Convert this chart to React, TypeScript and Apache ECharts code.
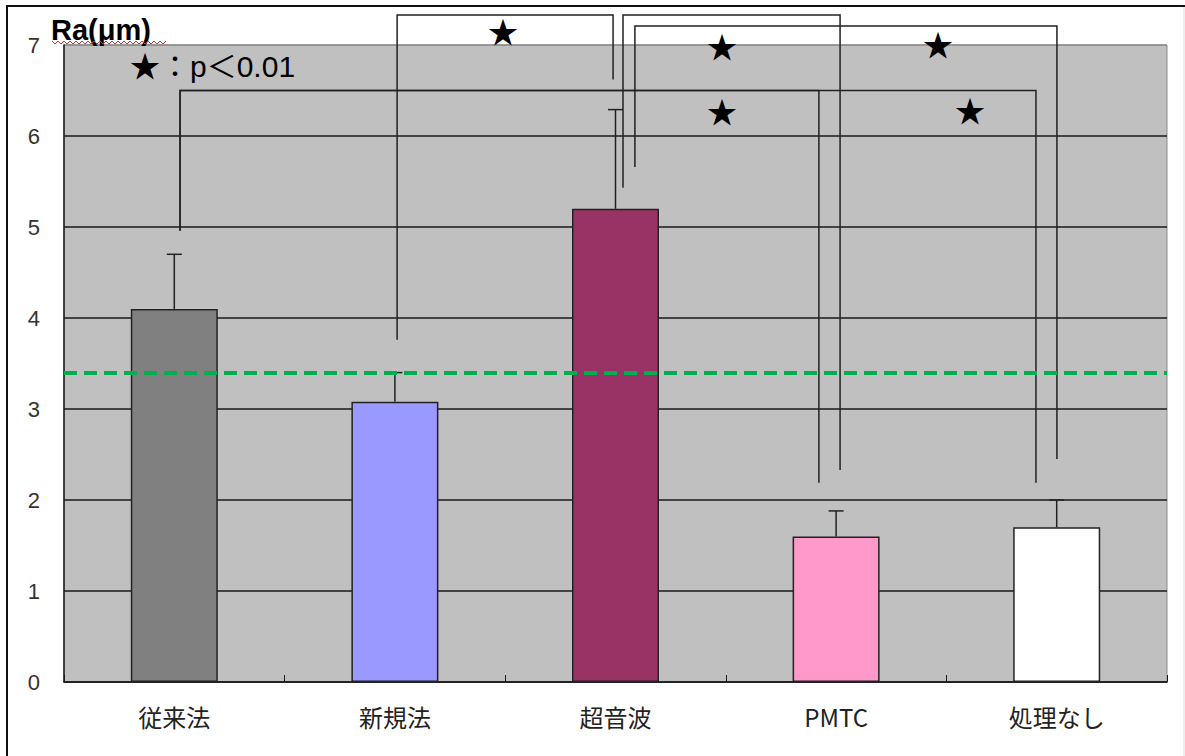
import React, { useEffect, useRef } from "react";
import * as echarts from "echarts";

const categories = ["従来法", "新規法", "超音波", "PMTC", "処理なし"];
const means = [4.1, 3.08, 5.2, 1.6, 1.7];
const errorTops = [4.7, 3.4, 6.29, 1.88, 2.0];
const barColors = ["#808080", "#9999FF", "#993366", "#FF99CC", "#FFFFFF"];
const referenceValue = 3.4;
const yTicks = [0, 1, 2, 3, 4, 5, 6, 7];

// significance brackets: [x (category position), y (value)] corner points
const brackets: number[][][] = [
  [[1.01, 3.76], [1.01, 7.33], [1.989, 7.33], [1.989, 6.62]],
  [[0.026, 4.96], [0.026, 6.5], [2.922, 6.5], [2.922, 2.19]],
  [[0.026, 4.96], [0.026, 6.5], [3.906, 6.5], [3.906, 2.19]],
  [[2.034, 5.43], [2.034, 7.33], [3.018, 7.33], [3.018, 2.33]],
  [[2.088, 5.66], [2.088, 7.21], [4.001, 7.21], [4.001, 2.45]],
];
const starPositions = [
  [1.49, 7.16],
  [2.483, 7.0],
  [3.462, 7.02],
  [2.483, 6.29],
  [3.607, 6.3],
];

export default function App() {
  const ref = useRef<HTMLDivElement>(null);
  useEffect(() => {
    if (!ref.current) return;
    const chart = echarts.init(ref.current, null, { renderer: "svg" });

    const wave: number[][] = [];
    for (let i = 0; i <= 38; i++) wave.push([52 + i * 3, i % 2 === 0 ? 41 : 44]);

    const splitColors = yTicks.map((t) => (t === 7 ? "#8c8c8c" : "#1a1a1a"));

    chart.setOption({
      animation: false,
      backgroundColor: "#ffffff",
      grid: {
        left: 64,
        top: 45,
        right: 18,
        bottom: 74,
        show: true,
        backgroundColor: "#C0C0C0",
        borderColor: "#8c8c8c",
        borderWidth: 1,
      },
      xAxis: [
        {
          type: "category",
          data: categories,
          axisLine: { show: true, lineStyle: { color: "#1a1a1a", width: 1.5 } },
          axisTick: { show: true, inside: true, length: 7, lineStyle: { color: "#1a1a1a" } },
          axisLabel: {
            margin: 22,
            fontSize: 24,
            color: "#222",
            fontFamily: "Noto Sans CJK JP",
          },
          splitLine: { show: false },
        },
        { type: "value", min: -0.5, max: 4.5, show: false },
      ],
      yAxis: {
        type: "value",
        min: 0,
        max: 7,
        interval: 1,
        axisLine: { show: true, onZero: false, lineStyle: { color: "#1a1a1a", width: 1.5 } },
        axisTick: { show: false },
        axisLabel: {
          margin: 24,
          fontSize: 22,
          color: "#333",
          fontFamily: "Liberation Sans",
        },
        splitLine: { show: true, lineStyle: { color: splitColors, width: 1.5 } },
      },
      series: [
        {
          type: "bar",
          xAxisIndex: 0,
          barWidth: 87,
          data: means.map((v, i) => ({
            value: v,
            itemStyle: { color: barColors[i], borderColor: "#222", borderWidth: 1.5 },
          })),
          markLine: {
            silent: true,
            symbol: "none",
            label: { show: false },
            lineStyle: { color: "#00B050", width: 4, type: [13, 7] },
            data: [{ yAxis: referenceValue }],
          },
          z: 2,
        },
        {
          type: "custom",
          xAxisIndex: 0,
          data: means.map((m, i) => [i, m, errorTops[i]]),
          encode: { x: 0, y: [1, 2] },
          renderItem: (params: any, api: any) => {
            const b = api.coord([api.value(0), api.value(1)]);
            const t = api.coord([api.value(0), api.value(2)]);
            const st = { stroke: "#222", lineWidth: 1.5 };
            return {
              type: "group",
              children: [
                { type: "line", shape: { x1: b[0], y1: b[1], x2: t[0], y2: t[1] }, style: st },
                { type: "line", shape: { x1: t[0] - 7.5, y1: t[1], x2: t[0] + 7.5, y2: t[1] }, style: st },
              ],
            };
          },
          z: 3,
        },
        {
          type: "custom",
          xAxisIndex: 1,
          clip: false,
          data: brackets.map((b) => [b[0][0], b[0][1]]),
          renderItem: (params: any, api: any) => {
            const pts = brackets[params.dataIndex].map((p) => api.coord(p));
            return {
              type: "polyline",
              shape: { points: pts },
              style: { stroke: "#222", lineWidth: 1.5, fill: null },
            };
          },
          z: 4,
        },
        {
          type: "custom",
          xAxisIndex: 1,
          clip: false,
          data: starPositions,
          renderItem: (params: any, api: any) => {
            const p = api.coord([api.value(0), api.value(1)]);
            return {
              type: "text",
              style: {
                text: "★",
                x: p[0],
                y: p[1],
                align: "center",
                verticalAlign: "middle",
                fontSize: 30,
                fontFamily: "Noto Sans CJK JP",
                fill: "#000",
              },
            };
          },
          z: 5,
        },
      ],
      graphic: [
        {
          type: "rect",
          shape: { x: 7, y: 6, width: 1220, height: 800 },
          style: { fill: "none", stroke: "#111", lineWidth: 2 },
          silent: true,
          z: 10,
        },
        {
          type: "line",
          shape: { x1: 1184, y1: 7, x2: 1184, y2: 756 },
          style: { stroke: "#dddddd", lineWidth: 1 },
          silent: true,
        },
        {
          type: "text",
          x: 51,
          y: 30,
          style: {
            text: "Ra(μm)",
            fontSize: 29,
            fontWeight: "bold",
            fontFamily: "Liberation Sans",
            fill: "#000",
            verticalAlign: "middle",
          },
          z: 10,
        },
        {
          type: "polyline",
          shape: { points: wave },
          style: { stroke: "#e03030", lineWidth: 1, fill: null },
          silent: true,
          z: 10,
        },
        {
          type: "text",
          x: 130,
          y: 66,
          style: {
            text: "★：p＜0.01",
            fontSize: 30,
            fontFamily: "Liberation Sans, Noto Sans CJK JP",
            fill: "#000",
            verticalAlign: "middle",
          },
          z: 10,
        },
      ],
    });
    return () => chart.dispose();
  }, []);
  return (
    <div
      ref={ref}
      style={{ position: "absolute", left: 0, top: 0, width: 1185, height: 756 }}
    />
  );
}
